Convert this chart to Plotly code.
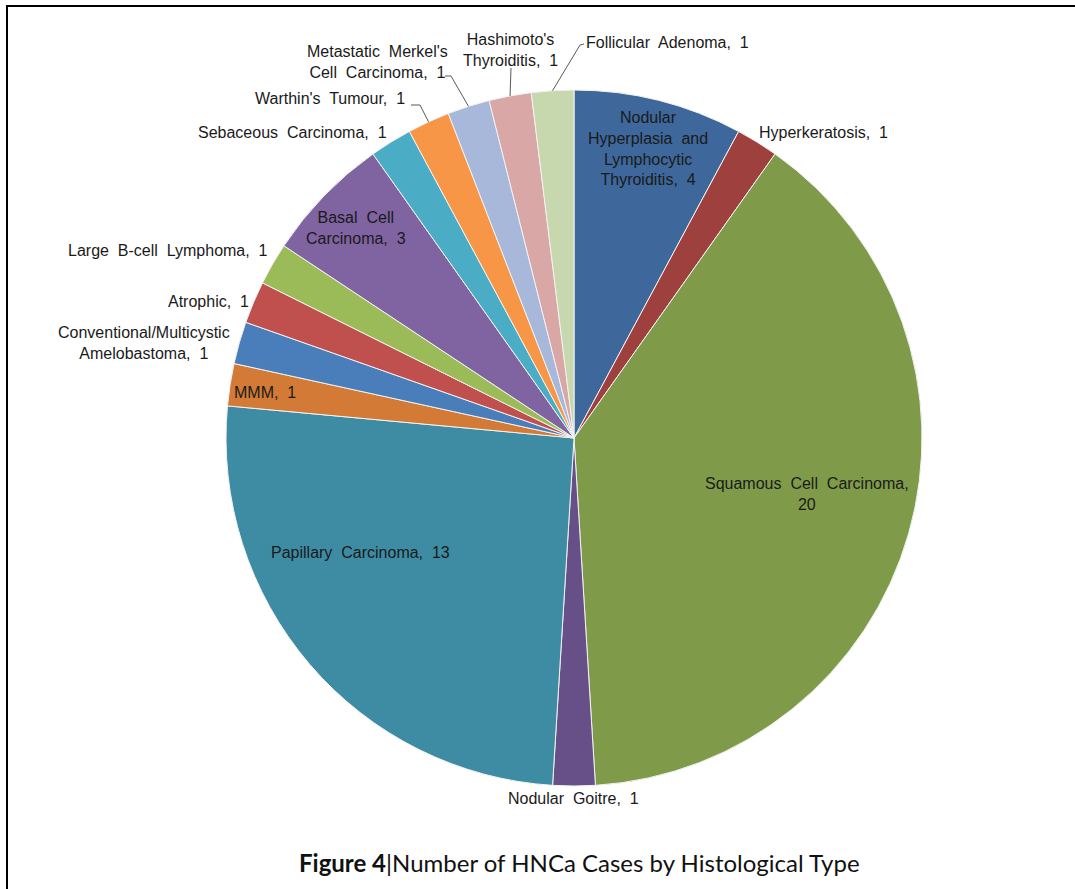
import math
import plotly.graph_objects as go

# ---- data (clockwise from 12 o'clock) ----
categories = [
    "Nodular Hyperplasia and Lymphocytic Thyroiditis",
    "Hyperkeratosis",
    "Squamous Cell Carcinoma",
    "Nodular Goitre",
    "Papillary Carcinoma",
    "MMM",
    "Conventional/Multicystic Amelobastoma",
    "Atrophic",
    "Large B-cell Lymphoma",
    "Basal Cell Carcinoma",
    "Sebaceous Carcinoma",
    "Warthin's Tumour",
    "Metastatic Merkel's Cell Carcinoma",
    "Hashimoto's Thyroiditis",
    "Follicular Adenoma",
]
cases = [4, 1, 20, 1, 13, 1, 1, 1, 1, 3, 1, 1, 1, 1, 1]

label_texts = [
    "Nodular<br>Hyperplasia  and<br>Lymphocytic<br>Thyroiditis,  4",
    "Hyperkeratosis,  1",
    "Squamous  Cell  Carcinoma,<br>20",
    "Nodular  Goitre,  1",
    "Papillary  Carcinoma,  13",
    "MMM,  1",
    "Conventional/Multicystic<br>Amelobastoma,  1",
    "Atrophic,  1",
    "Large  B-cell  Lymphoma,  1",
    "Basal  Cell<br>Carcinoma,  3",
    "Sebaceous  Carcinoma,  1",
    "Warthin's  Tumour,  1",
    "Metastatic  Merkel's<br>Cell  Carcinoma,  1",
    "Hashimoto's<br>Thyroiditis,  1",
    "Follicular  Adenoma,  1",
]

colors = [
    "#3E689B", "#9E413E", "#7F9B4A", "#674F88", "#3D8CA4",
    "#D47A37", "#4A7EBB", "#C0504D", "#9BBB59", "#8064A2",
    "#4BACC6", "#F79646", "#A7B8DA", "#D9A7A6", "#C8D8AE",
]

caption = "<b>Figure 4</b>|Number of HNCa Cases by Histological Type"

# ---- layout geometry (pixels) ----
W, H = 1075, 889
CX, CY, R = 574, 438, 348

def px(x):
    return x / W

def py(y):
    return 1 - y / H

# label centre positions (pixels)
label_pos = [
    (648, 149), (824, 132), (807, 494), (573, 798), (360, 552),
    (265, 392), (144, 343), (208, 301), (168, 251), (356, 228),
    (292, 132), (330, 98), (377, 62), (510, 50), (667, 43),
]

# leader line anchor points near labels (pixels): label end first
leader_pts = {
    11: [(411, 105), (420, 105)],
    12: [(445, 76), (451, 76)],
    13: [(511, 68)],
    14: [(584, 44), (580, 45)],
}

fig = go.Figure()
fig.add_trace(go.Pie(
    labels=categories,
    values=cases,
    sort=False,
    direction="clockwise",
    rotation=0,
    marker=dict(colors=colors, line=dict(color="#F2F2F2", width=1)),
    textinfo="none",
    hoverinfo="label+value",
    showlegend=False,
    domain=dict(x=[px(CX - R), px(CX + R)], y=[py(CY + R), py(CY - R)]),
))

annotations = []
for txt, (x, y) in zip(label_texts, label_pos):
    annotations.append(dict(
        x=px(x), y=py(y), xref="paper", yref="paper",
        text=txt, showarrow=False, xanchor="center", yanchor="middle",
        font=dict(family="Liberation Sans, Arial", size=16, color="#1A1A1A"),
        align="center",
    ))
annotations.append(dict(
    x=px(579), y=py(862), xref="paper", yref="paper", text=caption,
    showarrow=False, xanchor="center", yanchor="middle",
    font=dict(family="Lato", size=24, color="#111111"),
))

shapes = []
total = sum(cases)
cum = 0
mids = []
for v in cases:
    mids.append((cum + v / 2) / total * 2 * math.pi)
    cum += v
for i, pts in leader_pts.items():
    a = mids[i]
    ex, ey = CX + R * math.sin(a), CY - R * math.cos(a)
    path_pts = [(ex, ey)] + list(reversed(pts))
    d = "M " + " L ".join(f"{px(x)},{py(y)}" for x, y in path_pts)
    shapes.append(dict(type="path", path=d, xref="paper", yref="paper",
                       line=dict(color="#595959", width=1)))

# frame lines (top and left)
shapes.append(dict(type="line", xref="paper", yref="paper",
                   x0=px(6), y0=py(6), x1=1, y1=py(6),
                   line=dict(color="black", width=2)))
shapes.append(dict(type="line", xref="paper", yref="paper",
                   x0=px(7), y0=py(5), x1=px(7), y1=0,
                   line=dict(color="black", width=2)))

fig.update_layout(
    width=W, height=H,
    margin=dict(l=0, r=0, t=0, b=0),
    paper_bgcolor="white", plot_bgcolor="white",
    annotations=annotations, shapes=shapes,
)
fig.write_html("out.html")
